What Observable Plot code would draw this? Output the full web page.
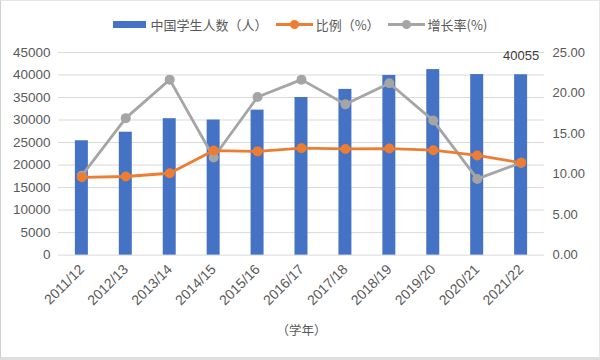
<!DOCTYPE html>
<html>
<head>
<meta charset="utf-8">
<script src="https://cdn.jsdelivr.net/npm/d3@7"></script>
<script src="https://cdn.jsdelivr.net/npm/@observablehq/plot@0.6"></script>
<style>
  html, body { margin: 0; padding: 0; background: #fff; }
  #wrap { position: relative; width: 600px; height: 360px; overflow: hidden; box-sizing: border-box;
          border-left: 1px solid #d0d0d0; border-top: 1px solid #e6e6e6; border-right: 1px solid #e6e6e6; border-bottom: 3px solid #dedede;
          font-family: "Noto Sans CJK SC", "Noto Sans", sans-serif; color: #595959; }
  #legend { height: 40px; display: flex; align-items: center; justify-content: center; font-size: 13px; box-sizing: border-box; padding-top: 6px; padding-left: 0px; }
  .item { display: flex; align-items: center; margin: 0 4px; }
  .sw-rect { width: 33px; height: 7px; background: #4472c4; margin-right: 5px; }
  .sw-line { position: relative; width: 37px; height: 3px; margin-right: 3px; }
  .sw-line .dot { position: absolute; left: 14px; top: -3px; width: 9px; height: 9px; border-radius: 50%; }
  #chart { position: absolute; left: -1px; top: 39px; }
</style>
</head>
<body>
<div id="wrap">
  <div id="legend">
    <div class="item"><div class="sw-rect"></div><span>中国学生人数（人）</span></div>
    <div class="item"><div class="sw-line" style="background:#ed7d31"><div class="dot" style="background:#ed7d31"></div></div><span>比例（%）</span></div>
    <div class="item"><div class="sw-line" style="background:#a5a5a5"><div class="dot" style="background:#a5a5a5"></div></div><span>增长率(%)</span></div>
  </div>
  <div id="chart"></div>
</div>
<script>
const years = ["2011/12","2012/13","2013/14","2014/15","2015/16","2016/17","2017/18","2018/19","2019/20","2020/21","2021/22"];
const students = [25400, 27300, 30300, 30000, 32200, 35000, 36800, 39900, 41200, 40100, 40055];
const ratio = [9.6, 9.7, 10.1, 12.9, 12.8, 13.2, 13.1, 13.15, 12.95, 12.3, 11.4];
const growth = [9.8, 16.9, 21.65, 12.05, 19.5, 21.65, 18.6, 21.2, 16.6, 9.4, 11.4];
const leftTicks = [0, 5000, 10000, 15000, 20000, 25000, 30000, 35000, 40000, 45000];
const rightTicks = [0, 5, 10, 15, 20, 25];
const labelYear = "2021/22";
const labelValue = 40055;

const leftMax = 45000, rightMax = 25;
const k = leftMax / rightMax;

const rows = years.map((y, i) => ({year: y, students: students[i], ratio: ratio[i] * k, growth: growth[i] * k}));

const txt = "#595959";
const chart = Plot.plot({
  width: 600,
  height: 320,
  marginLeft: 58,
  marginRight: 55,
  marginTop: 12,
  marginBottom: 105,
  style: {fontFamily: "'Liberation Sans', Arial, 'Noto Sans CJK SC', sans-serif", fontSize: "13px", color: txt, background: "transparent"},
  x: {type: "band", domain: years, paddingInner: 0.7, paddingOuter: 0.35},
  y: {domain: [0, leftMax]},
  marks: [
    Plot.ruleY(leftTicks, {stroke: "#d9d9d9", strokeWidth: 1}),
    Plot.barY(rows, {x: "year", y: "students", fill: "#4472c4"}),
    Plot.lineY(rows, {x: "year", y: "growth", stroke: "#a5a5a5", strokeWidth: 2.8}),
    Plot.dot(rows, {x: "year", y: "growth", fill: "#a5a5a5", r: 5}),
    Plot.lineY(rows, {x: "year", y: "ratio", stroke: "#ed7d31", strokeWidth: 2.8}),
    Plot.dot(rows, {x: "year", y: "ratio", fill: "#ed7d31", r: 5}),
    Plot.axisY(leftTicks, {anchor: "left", tickSize: 0, tickPadding: 8, label: null, fill: txt, fontSize: 13.5, tickFormat: d => String(d)}),
    Plot.axisY(rightTicks.map(d => d * k), {anchor: "right", tickSize: 0, tickPadding: 8, label: null, fill: txt, fontSize: 13, tickFormat: d => (d / k).toFixed(2)}),
    Plot.axisX(years, {tickSize: 0, tickPadding: 12, tickRotate: -45, label: null, fill: txt, fontSize: 14}),
    Plot.text(["（学年）"], {frameAnchor: "bottom", dy: 80, fill: txt, fontFamily: "'Noto Sans CJK SC', sans-serif", fontSize: 12.5}),
    Plot.text([{year: labelYear, v: labelValue}], {x: "year", y: "v", text: d => String(d.v), dy: -19, fill: "#404040", fontSize: 13})
  ]
});
document.getElementById("chart").appendChild(chart);
</script>
</body>
</html>
